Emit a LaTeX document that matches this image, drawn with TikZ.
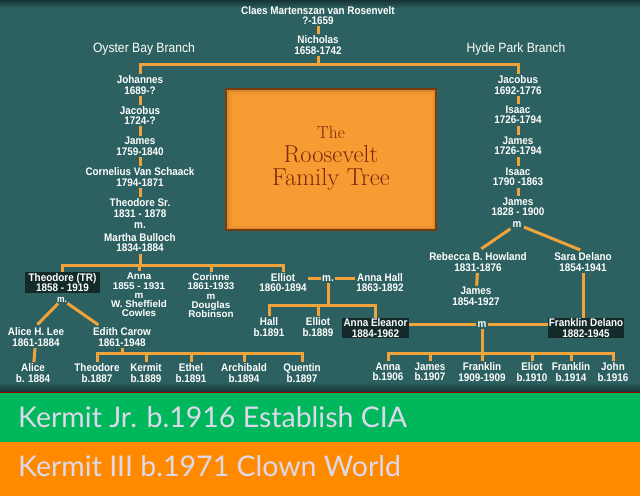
\documentclass[tikz,border=0pt]{standalone}
\usepackage{fontspec}
\newfontfamily\lblfont{Liberation Sans}[FakeStretch=0.9]
\newfontfamily\lblwide{Liberation Sans}
\newfontfamily\barfont{Lato}
\usetikzlibrary{calc}
\definecolor{bgteal}{RGB}{45,96,96}
\definecolor{bgdark}{RGB}{22,52,52}
\definecolor{boxdark}{RGB}{20,42,42}
\definecolor{lineor}{RGB}{240,163,58}
\definecolor{titleor}{RGB}{246,156,50}
\definecolor{titlebr}{RGB}{120,60,15}
\definecolor{titletx}{RGB}{125,40,12}
\definecolor{gbar}{RGB}{0,184,92}
\definecolor{obar}{RGB}{255,138,0}
\definecolor{bartx}{RGB}{221,217,236}
\begin{document}
\begin{tikzpicture}[x=1pt,y=-1pt,
  lbl/.style={text=white,font=\lblfont\bfseries\fontsize{11}{10.5}\selectfont,align=center,inner sep=1.5pt},
  tight/.style={lbl,font=\lblwide\bfseries\fontsize{9.8}{9.2}\selectfont},
  mlbl/.style={lbl,anchor=base,text height=5.5pt,text depth=0pt,inner sep=0.5pt},
  branch/.style={text=white,font=\lblfont\fontsize{13.5}{14}\selectfont,inner sep=1pt},
  darkbox/.style={lbl,fill=boxdark,inner sep=1pt},
  conn/.style={draw=lineor,line width=3pt},
  titletext/.style={text=titletx,inner sep=0pt,anchor=base,text depth=0pt,font=\fontsize{24.5}{24}\selectfont},
  bartext/.style={text=bartx,font=\barfont\fontsize{28.5}{30}\selectfont,anchor=west,inner sep=0pt}]
\useasboundingbox (0,0) rectangle (640,496);
% background
\fill[bgteal] (0,0) rectangle (640,392);
\shade[top color=bgdark,bottom color=bgteal] (0,0) rectangle (640,8);
\shade[top color=bgteal,bottom color=bgdark] (0,382) rectangle (640,392);
% title box
\node[fill=titlebr,minimum width=212pt,minimum height=143pt,inner sep=0pt] (tbox) at (331,159.5) {};
\fill[titleor!80!titlebr] ($(tbox.north west)+(2,2)$) rectangle ($(tbox.south east)+(-2,-2)$);
\fill[titleor!92!titlebr] ($(tbox.north west)+(4,4)$) rectangle ($(tbox.south east)+(-3,-3)$);
\fill[titleor] ($(tbox.north west)+(7,7)$) rectangle ($(tbox.south east)+(-5,-5)$);
\node[titletext,font=\fontsize{17.5}{18}\selectfont,text height=12pt] (tthe) at (331,138.5) {The};
\node[titletext,text height=17pt] (troos) at (331,162) {Roosevelt};
\node[titletext,text height=17pt,text depth=3pt] (tfam) at (331,185) {Family Tree};
% top
\node[lbl] (claes) at (318,15.5) {Claes Martenszan van Rosenvelt\\?-1659};
\node[lbl] (nich) at (318,45) {Nicholas\\1658-1742};
\node[branch] (oyster) at (144,49) {Oyster Bay Branch};
\node[branch] (hyde) at (516,49) {Hyde Park Branch};
% left column
\node[lbl] (joh) at (140,85) {Johannes\\1689-?};
\node[lbl] (jac1) at (140,115.5) {Jacobus\\1724-?};
\node[lbl] (jam1) at (140,146.5) {James\\1759-1840};
\node[lbl] (corn) at (140,177) {Cornelius Van Schaack\\1794-1871};
\node[lbl] (tsr) at (140,208) {Theodore Sr.\\1831 - 1878};
\node[mlbl] (m1) at (140,228) {m.};
\node[lbl] (mar) at (140,242.5) {Martha Bulloch\\1834-1884};
% right column
\node[lbl] (jac2) at (518,85) {Jacobus\\1692-1776};
\node[lbl] (isa1) at (518,115) {Isaac\\1726-1794};
\node[lbl] (jam2) at (518,146) {James\\1726-1794};
\node[lbl] (isa2) at (518,177) {Isaac\\1790 -1863};
\node[lbl] (jam3) at (518,207) {James\\1828 - 1900};
\node[mlbl] (m4) at (517,227) {m};
\node[lbl] (reb) at (478,262) {Rebecca B. Howland\\1831-1876};
\node[lbl] (sara) at (583,262) {Sara Delano\\1854-1941};
\node[lbl] (jam4) at (476,296.5) {James\\1854-1927};
% TR generation
\node[darkbox,minimum width=75pt,minimum height=21pt] (tr) at (62.5,282.5) {Theodore (TR)\\1858 - 1919};
\node[mlbl,font=\lblfont\bfseries\fontsize{9.5}{10}\selectfont,text height=5pt] (mtr) at (62,302) {m.};
\node[tight] (anna) at (139,295) {Anna\\1855 - 1931\\m\\W. Sheffield\\Cowles};
\node[tight] (cor) at (211,295.5) {Corinne\\1861-1933\\m\\Douglas\\Robinson};
\node[lbl] (ell) at (283,282.5) {Elliot\\1860-1894};
\node[mlbl] (m2) at (328,281) {m.};
\node[lbl] (ahall) at (380,282.5) {Anna Hall\\1863-1892};
\node[lbl] (hall) at (269,327) {Hall\\b.1891};
\node[lbl] (ell2) at (318,327) {Elliot\\b.1889};
\node[darkbox,minimum width=67pt,minimum height=20pt] (ae) at (375.5,328) {Anna Eleanor\\1884-1962};
\node[mlbl] (m3) at (482,327) {m};
\node[darkbox,minimum width=76pt,minimum height=20pt] (fd) at (586,328) {Franklin Delano\\1882-1945};
% TR wives and children
\node[lbl] (alee) at (36,337) {Alice H. Lee\\1861-1884};
\node[lbl] (edith) at (122,337) {Edith Carow\\1861-1948};
\node[lbl] (alice) at (33,373) {Alice\\b. 1884};
\node[lbl] (ted) at (97,373) {Theodore\\b.1887};
\node[lbl] (ker) at (146,373) {Kermit\\b.1889};
\node[lbl] (eth) at (191,373) {Ethel\\b.1891};
\node[lbl] (arch) at (244,373) {Archibald\\b.1894};
\node[lbl] (quen) at (302,373) {Quentin\\b.1897};
% FDR children
\node[lbl] (c1) at (388,372) {Anna\\b.1906};
\node[lbl] (c2) at (430,372) {James\\b.1907};
\node[lbl] (c3) at (482,372) {Franklin\\1909-1909};
\node[lbl] (c4) at (532,372) {Eliot\\b.1910};
\node[lbl] (c5) at (571,372) {Franklin\\b.1914};
\node[lbl] (c6) at (613,372) {John\\b.1916};
% connectors
\coordinate (t1) at (318,64);
\draw[conn] (claes) -- (nich);
\draw[conn] (nich) -- (t1);
\draw[conn] (joh) |- (t1) -| (jac2);
\draw[conn] (joh) -- (jac1) -- (jam1) -- (corn) -- (tsr);
\draw[conn] (jac2) -- (isa1) -- (jam2) -- (isa2) -- (jam3);
\draw[conn,shorten <=2pt,shorten >=4pt] (m4) -- (reb.north);
\draw[conn,shorten <=2pt,shorten >=3pt] (m4) -- (sara.north);
\draw[conn] (reb) -- (jam4);
\draw[conn] (sara) -- (sara |- fd.north);
\coordinate (t2) at (140,265);
\draw[conn] (mar) -- (t2);
\draw[conn] (tr) |- (t2) -| (ell);
\draw[conn] (anna) -- (anna |- t2);
\draw[conn] (cor) -- (cor |- t2);
\draw[conn,shorten <=1pt,shorten >=2pt] (mtr) -- (alee.north);
\draw[conn,shorten <=1pt,shorten >=2pt] (mtr) -- ([xshift=-22pt]edith.north);
\draw[conn] (alee) -- (alice);
\coordinate (t3) at (122,353);
\draw[conn] (edith) -- (t3);
\draw[conn] (ted) |- (t3) -| (quen);
\draw[conn] (ker) -- (ker |- t3);
\draw[conn] (eth) -- (eth |- t3);
\draw[conn] (arch) -- (arch |- t3);
\draw[conn,shorten <=1pt] (m2) -- (ell.east |- m2);
\draw[conn,shorten <=1pt] (m2) -- (ahall.west |- m2);
\coordinate (t4) at (328,305);
\draw[conn,shorten <=1pt] (m2) -- (t4);
\draw[conn] (hall) |- (t4) -| (ae);
\draw[conn] (ell2) -- (ell2 |- t4);
\draw[conn,shorten <=1pt] (m3) -- (ae.east |- m3);
\draw[conn,shorten <=1pt] (m3) -- (fd.west |- m3);
\coordinate (t5) at (482,353);
\draw[conn,shorten <=1pt] (m3) -- (t5);
\draw[conn] (c1) |- (t5) -| (c6);
\draw[conn] (c2) -- (c2 |- t5);
\draw[conn] (c3) -- (t5);
\draw[conn] (c4) -- (c4 |- t5);
\draw[conn] (c5) -- (c5 |- t5);
% bottom bars
\fill[gbar] (0,392) rectangle (640,442);
\draw[red!60!black,line width=1pt] (0,392.5) -- (640,392.5);
\fill[obar] (0,442) rectangle (640,496);
\node[bartext] (k1) at (18,417) {Kermit Jr. b.1916 Establish CIA};
\node[bartext] (k2) at (18,466) {Kermit III b.1971 Clown World};
\end{tikzpicture}
\end{document}
